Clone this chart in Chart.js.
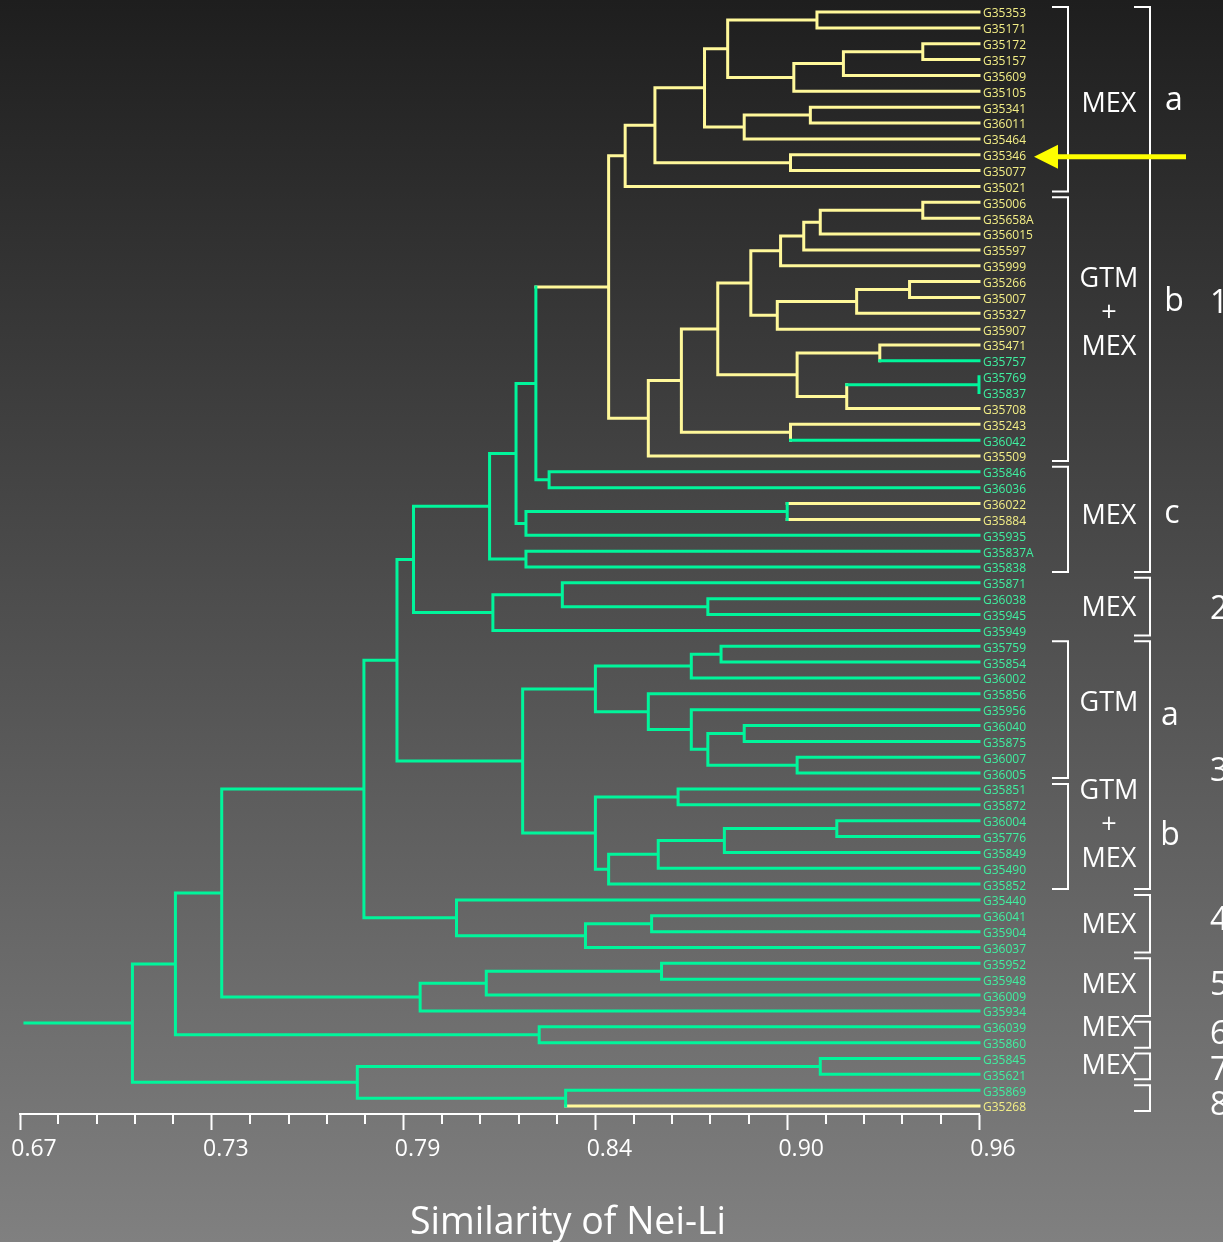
<!DOCTYPE html>
<html>
<head>
<meta charset="utf-8">
<title>Dendrogram - Nei-Li similarity</title>
<script src="https://cdn.jsdelivr.net/npm/chart.js@4.4.1/dist/chart.umd.min.js"></script>
<style>
  html, body { margin: 0; padding: 0; }
  body {
    width: 1223px; height: 1242px; overflow: hidden;
    background: linear-gradient(to bottom, #1e1e1e 0%, #808080 100%);
  }
  #wrap { position: relative; width: 1223px; height: 1242px; }
</style>
</head>
<body>
<div id="wrap"><canvas id="dendro"></canvas></div>
<script>
// leaves, top to bottom
const leaves = ['G35353','G35171','G35172','G35157','G35609','G35105','G35341','G36011','G35464','G35346',
  'G35077','G35021','G35006','G35658A','G356015','G35597','G35999','G35266','G35007','G35327',
  'G35907','G35471','G35757','G35769','G35837','G35708','G35243','G36042','G35509','G35846',
  'G36036','G36022','G35884','G35935','G35837A','G35838','G35871','G36038','G35945','G35949',
  'G35759','G35854','G36002','G35856','G35956','G36040','G35875','G36007','G36005','G35851',
  'G35872','G36004','G35776','G35849','G35490','G35852','G35440','G36041','G35904','G36037',
  'G35952','G35948','G36009','G35934','G36039','G35860','G35845','G35621','G35869','G35268'];

// Y = yellow leaf, G = green leaf
const leafColour = ['YYYYYYYYYY','YYYYYYYYYY','YYGGGYYGYG','GYYGGGGGGG','GGGGGGGGGG',
  'GGGGGGGGGG','GGGGGGGGGY'].join('').split('');

// merges: [childA, childB, similarity]; ids < 70 are leaves, 70 + k is merge k
const merges = [
  [0, 1, 0.911],     // 70
  [2, 3, 0.943],     // 71
  [71, 4, 0.919],    // 72
  [72, 5, 0.904],    // 73
  [70, 73, 0.884],   // 74
  [6, 7, 0.909],     // 75
  [75, 8, 0.889],    // 76
  [74, 76, 0.877],   // 77
  [9, 10, 0.903],    // 78
  [77, 78, 0.862],   // 79
  [79, 11, 0.853],   // 80
  [12, 13, 0.943],   // 81
  [81, 14, 0.912],   // 82
  [82, 15, 0.907],   // 83
  [83, 16, 0.900],   // 84
  [17, 18, 0.939],   // 85
  [85, 19, 0.923],   // 86
  [86, 20, 0.899],   // 87
  [84, 87, 0.891],   // 88
  [21, 22, 0.930],   // 89
  [23, 24, 0.960],   // 90
  [90, 25, 0.920],   // 91
  [89, 91, 0.905],   // 92
  [88, 92, 0.881],   // 93
  [26, 27, 0.903],   // 94
  [93, 94, 0.870],   // 95
  [95, 28, 0.860],   // 96
  [80, 96, 0.848],   // 97
  [29, 30, 0.830],   // 98
  [97, 98, 0.826],   // 99
  [31, 32, 0.902],   // 100
  [100, 33, 0.823],  // 101
  [99, 101, 0.820],  // 102
  [34, 35, 0.823],   // 103
  [102, 103, 0.812], // 104
  [37, 38, 0.878],   // 105
  [36, 105, 0.834],  // 106
  [106, 39, 0.813],  // 107
  [104, 107, 0.789], // 108
  [40, 41, 0.882],   // 109
  [109, 42, 0.873],  // 110
  [45, 46, 0.889],   // 111
  [47, 48, 0.905],   // 112
  [111, 112, 0.878], // 113
  [44, 113, 0.873],  // 114
  [43, 114, 0.860],  // 115
  [110, 115, 0.844], // 116
  [49, 50, 0.869],   // 117
  [51, 52, 0.917],   // 118
  [118, 53, 0.883],  // 119
  [119, 54, 0.863],  // 120
  [120, 55, 0.848],  // 121
  [117, 121, 0.844], // 122
  [116, 122, 0.822], // 123
  [108, 123, 0.784], // 124
  [57, 58, 0.861],   // 125
  [125, 59, 0.841],  // 126
  [56, 126, 0.802],  // 127
  [124, 127, 0.774], // 128
  [60, 61, 0.864],   // 129
  [129, 62, 0.811],  // 130
  [130, 63, 0.791],  // 131
  [128, 131, 0.731], // 132
  [64, 65, 0.827],   // 133
  [132, 133, 0.717], // 134
  [66, 67, 0.912],   // 135
  [68, 69, 0.835],   // 136
  [135, 136, 0.772], // 137
  [134, 137, 0.704]  // 138 root
];
const leafSimilarity = 0.96;
const rootStemFrom = 0.6715;
const yellowClade = 97;   // the mostly-yellow branch (clusters 1a + 1b)

const xMin = 0.67, xMax = 0.96;
const xTickLabels = ['0.67', '0.73', '0.79', '0.84', '0.90', '0.96'];
const minorPerMajor = 5;

const YELLOW = '#fff89a', GREEN = '#00f59b';
const YELLOW_TXT = '#f3ee86', GREEN_TXT = '#3ff0a0';

// ---- build the tree geometry (in data units) ----
const N = leaves.length;
const nodeY = [], nodeX = [], kids = [];
for (let i = 0; i < N; i++) { nodeY[i] = i; nodeX[i] = leafSimilarity; }
merges.forEach(([a, b, s], k) => {
  const n = N + k;
  kids[n] = [a, b];
  nodeY[n] = (nodeY[a] + nodeY[b]) / 2;
  nodeX[n] = s;
});
const leavesOf = n => n < N ? [n] : leavesOf(kids[n][0]).concat(leavesOf(kids[n][1]));
const inClade = {};
(function mark(n) { inClade[n] = true; if (n >= N) kids[n].forEach(mark); })(yellowClade);
const colourOf = n => {
  if (n < N) return leafColour[n];
  if (inClade[n] && !leavesOf(n).every(l => leafColour[l] === 'G')) return 'Y';
  return 'G';
};

const segs = { Y: [], G: [] };
const addSeg = (c, x1, y1, x2, y2) => {
  segs[c].push({x: x1, y: y1}, {x: x2, y: y2}, {x: null, y: null});
};
merges.forEach(([a, b], k) => {
  const n = N + k, h = nodeX[n];
  addSeg(colourOf(n), h, nodeY[a], h, nodeY[b]);
  addSeg(colourOf(a), h, nodeY[a], nodeX[a], nodeY[a]);
  addSeg(colourOf(b), h, nodeY[b], nodeX[b], nodeY[b]);
});
const root = N + merges.length - 1;
addSeg('G', rootStemFrom, nodeY[root], nodeX[root], nodeY[root]);

// ---- right-hand annotations ----
const innerBrackets = [
  {from: 0, to: 11, text: ['MEX'], textRow: 5.8, letter: 'a', letterRow: 5.7, lx: 1174},
  {from: 12, to: 28, text: ['GTM', '+', 'MEX'], textRow: 19.0, letter: 'b', letterRow: 18.4, lx: 1174},
  {from: 29, to: 35, text: ['MEX'], textRow: 31.8, letter: 'c', letterRow: 31.8, lx: 1172},
  {from: 40, to: 48, text: ['GTM'], textRow: 43.6, letter: 'a', letterRow: 44.5, lx: 1170},
  {from: 49, to: 55, text: ['GTM', '+', 'MEX'], textRow: 51.3, letter: 'b', letterRow: 52.1, lx: 1170}
];
const outerBrackets = [
  {from: 0, to: 35, num: '1', numRow: 18.4},
  {from: 36, to: 39, num: '2', numRow: 37.7, text: 'MEX', textRow: 37.6},
  {from: 40, to: 55, num: '3', numRow: 47.9},
  {from: 56, to: 59, num: '4', numRow: 57.3, text: 'MEX', textRow: 57.6},
  {from: 60, to: 63, num: '5', numRow: 61.4, text: 'MEX', textRow: 61.4},
  {from: 64, to: 65, num: '6', numRow: 64.5, text: 'MEX', textRow: 64.1},
  {from: 66, to: 67, num: '7', numRow: 66.8, text: 'MEX', textRow: 66.5},
  {from: 68, to: 69, num: '8', numRow: 69.0}
];
const arrowRow = 9;

const annotations = {
  id: 'annotations',
  afterDraw(chart) {
    const ctx = chart.ctx, ys = chart.scales.y, xs = chart.scales.x;
    const py = r => ys.getPixelForValue(r);
    ctx.save();

    // minor ticks on the similarity axis
    ctx.strokeStyle = '#ffffff';
    ctx.lineWidth = 2;
    xs.ticks.forEach((t, i) => {
      if (i % minorPerMajor === 0) return;
      const x = Math.round(xs.getPixelForValue(t.value));
      ctx.beginPath();
      ctx.moveTo(x, xs.top);
      ctx.lineTo(x, xs.top + 10);
      ctx.stroke();
    });

    const bracket = (x, y1, y2) => {
      ctx.beginPath();
      ctx.moveTo(x - 16, y1);
      ctx.lineTo(x, y1);
      ctx.lineTo(x, y2);
      ctx.lineTo(x - 16, y2);
      ctx.stroke();
    };
    ctx.fillStyle = '#ffffff';
    ctx.textBaseline = 'middle';

    innerBrackets.forEach(g => {
      bracket(1068, py(g.from) - 5, py(g.to) + 5);
      ctx.font = "27px 'Open Sans'";
      ctx.textAlign = 'center';
      const y0 = py(g.textRow) - (g.text.length - 1) * 17;
      g.text.forEach((t, i) => ctx.fillText(t, 1109, y0 + i * 34));
      ctx.font = "32px 'Open Sans'";
      ctx.fillText(g.letter, g.lx, py(g.letterRow) - 2);
    });
    outerBrackets.forEach(g => {
      bracket(1150, py(g.from) - 5, py(g.to) + 5);
      ctx.font = "32px 'Open Sans'";
      ctx.textAlign = 'left';
      ctx.fillText(g.num, 1210, py(g.numRow));
      if (g.text) {
        ctx.font = "27px 'Open Sans'";
        ctx.textAlign = 'center';
        ctx.fillText(g.text, 1109, py(g.textRow));
      }
    });

    // yellow arrow pointing at G35346
    const ay = py(arrowRow) + 2;
    ctx.strokeStyle = '#ffff00';
    ctx.fillStyle = '#ffff00';
    ctx.lineWidth = 5;
    ctx.beginPath();
    ctx.moveTo(1186, ay);
    ctx.lineTo(1054, ay);
    ctx.stroke();
    ctx.beginPath();
    ctx.moveTo(1034, ay);
    ctx.lineTo(1058, ay - 12);
    ctx.lineTo(1058, ay + 12);
    ctx.closePath();
    ctx.fill();
    ctx.restore();
  }
};

Chart.defaults.font.family = "'Open Sans', sans-serif";

new Chart(document.getElementById('dendro'), {
  type: 'scatter',
  data: {
    datasets: [
      { label: 'green', data: segs.G, borderColor: GREEN },
      { label: 'yellow', data: segs.Y, borderColor: YELLOW }
    ].map(d => Object.assign(d, {
      showLine: true, spanGaps: false, pointRadius: 0, pointHoverRadius: 0,
      borderWidth: 3, borderCapStyle: 'square', clip: false
    }))
  },
  options: {
    responsive: true,
    maintainAspectRatio: false,
    animation: false,
    events: [],
    layout: { padding: { left: 20, right: 107, top: 0, bottom: 0 } },
    plugins: {
      legend: { display: false },
      tooltip: { enabled: false },
      title: {
        display: true,
        position: 'bottom',
        text: 'Similarity of Nei-Li',
        color: '#ffffff',
        font: { size: 37.5, weight: 'normal', lineHeight: 1.0 },
        padding: { top: 0, bottom: 0 }
      }
    },
    scales: {
      x: {
        type: 'linear',
        min: xMin,
        max: xMax,
        afterBuildTicks: s => {
          const n = (xTickLabels.length - 1) * minorPerMajor;
          s.ticks = Array.from({length: n + 1}, (_, i) => ({value: xMin + (xMax - xMin) * i / n}));
        },
        afterFit: s => { s.height = 90.5; s.paddingLeft = 0; s.paddingRight = 0; },
        grid: {
          display: true,
          drawOnChartArea: false,
          drawTicks: true,
          tickLength: 16,
          tickWidth: 2,
          tickColor: c => c.index % minorPerMajor === 0 ? '#ffffff' : 'rgba(0,0,0,0)'
        },
        border: { display: true, color: '#ffffff', width: 2 },
        ticks: {
          autoSkip: false,
          maxRotation: 0,
          color: '#ffffff',
          font: { size: 23 },
          padding: 6,
          labelOffset: 14,
          callback: (v, i) => i % minorPerMajor === 0 ? xTickLabels[i / minorPerMajor] : ''
        }
      },
      y: {
        type: 'linear',
        position: 'right',
        reverse: true,
        min: -0.76,
        max: 69.5,
        afterBuildTicks: s => { s.ticks = leaves.map((_, i) => ({value: i})); },
        afterFit: s => { s.width = 137; s.paddingTop = 0; s.paddingBottom = 0; },
        grid: { display: false, drawTicks: false },
        border: { display: false },
        ticks: {
          autoSkip: false,
          padding: 4,
          labelOffset: 2,
          font: { size: 12 },
          color: c => leafColour[c.tick.value] === 'Y' ? YELLOW_TXT : GREEN_TXT,
          callback: v => leaves[v]
        }
      }
    }
  },
  plugins: [annotations]
});
</script>
</body>
</html>
